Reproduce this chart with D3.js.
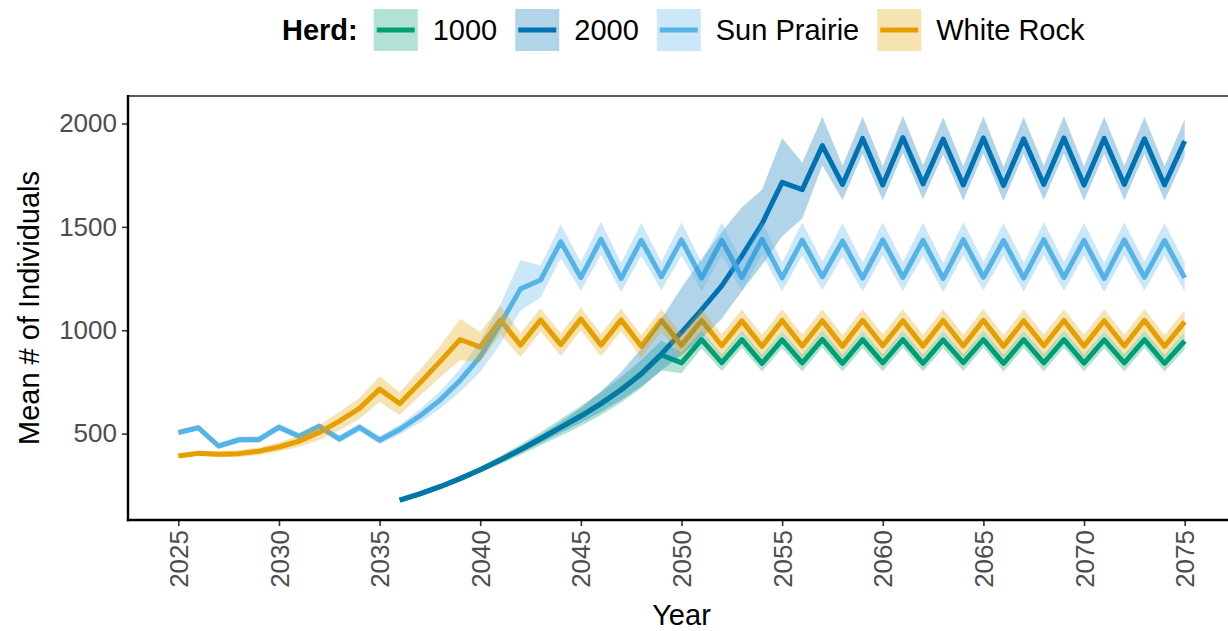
<!DOCTYPE html>
<html>
<head>
<meta charset="utf-8">
<script src="https://cdn.jsdelivr.net/npm/d3@7"></script>
<style>
  html, body { margin: 0; padding: 0; background: #ffffff; }
  svg { display: block; font-family: "Liberation Sans", Arial, sans-serif; }
</style>
</head>
<body>
<svg id="chart" width="1228" height="631"></svg>
<script>
// ---- Data -----------------------------------------------------------------
const herdNames  = ["1000", "2000", "Sun Prairie", "White Rock"];
const herdColors = ["#009E73", "#0072B2", "#56B4E9", "#E69F00"];
const herdStart  = [2036, 2036, 2025, 2025];

const xTicks = [2025, 2030, 2035, 2040, 2045, 2050, 2055, 2060, 2065, 2070, 2075];
const yTicks = [500, 1000, 1500, 2000];

// Herd "1000": 2036-2075
const mean1000 = [178, 208, 243, 282, 325, 372, 422, 475, 530, 585,
                  645, 712, 788, 880, 842, 955, 843, 955, 840, 953,
                  842, 956, 840, 954, 842, 955, 840, 953, 843, 955,
                  840, 954, 842, 955, 841, 953, 842, 955, 840, 948];
const below1000 = [3, 4, 6, 8, 15, 20, 25, 32, 40, 48,
                   55, 62, 68, 75, 50, 42, 40, 40, 40, 40,
                   40, 40, 40, 40, 40, 40, 40, 40, 40, 40,
                   40, 40, 40, 40, 40, 40, 40, 40, 40, 40];
const above1000 = [3, 4, 6, 8, 15, 20, 25, 32, 40, 48,
                   55, 62, 68, 70, 50, 42, 40, 40, 40, 40,
                   40, 40, 40, 40, 40, 40, 40, 40, 40, 40,
                   40, 40, 40, 40, 40, 40, 40, 40, 40, 40];

// Herd "2000": 2036-2075
const mean2000 = [178, 208, 243, 282, 325, 372, 422, 475, 530, 585,
                  645, 712, 790, 885, 990, 1100, 1215, 1360, 1515, 1715,
                  1680, 1893, 1705, 1928, 1703, 1932, 1708, 1925, 1703, 1930,
                  1700, 1926, 1705, 1930, 1702, 1928, 1705, 1926, 1703, 1915];
const below2000 = [3, 4, 6, 8, 10, 13, 17, 21, 26, 32,
                   40, 50, 62, 80, 110, 140, 160, 170, 200, 260,
                   140, 95, 75, 75, 75, 75, 75, 75, 75, 75,
                   75, 75, 75, 75, 75, 75, 75, 75, 75, 75];
const above2000 = [3, 4, 6, 8, 10, 13, 17, 21, 26, 40,
                   60, 85, 120, 170, 215, 245, 260, 235, 165, 215,
                   130, 140, 90, 105, 90, 105, 90, 105, 90, 105,
                   90, 105, 90, 105, 90, 105, 90, 105, 90, 105];

// Sun Prairie: 2025-2075
const meanSun = [505, 528, 440, 470, 471, 531, 487, 535, 474, 530,
                 468, 520, 585, 662, 757, 872, 1030, 1200, 1243, 1428,
                 1255, 1440, 1250, 1435, 1258, 1437, 1252, 1436, 1255, 1440,
                 1253, 1436, 1258, 1432, 1252, 1437, 1255, 1435, 1250, 1438,
                 1256, 1434, 1252, 1438, 1255, 1435, 1250, 1437, 1256, 1434,
                 1253];
const belowSun = [12, 13, 15, 16, 16, 17, 17, 18, 18, 19,
                  20, 24, 32, 42, 55, 75, 95, 105, 85, 80,
                  65, 75, 65, 75, 65, 75, 65, 75, 65, 75,
                  65, 75, 65, 75, 65, 75, 65, 75, 65, 75,
                  65, 75, 65, 75, 65, 75, 65, 75, 65, 75,
                  65];
const aboveSun = [12, 13, 15, 16, 16, 17, 17, 18, 18, 19,
                  20, 24, 32, 42, 55, 75, 95, 140, 70, 85,
                  75, 85, 75, 85, 75, 85, 75, 85, 75, 85,
                  75, 85, 75, 85, 75, 85, 75, 85, 75, 85,
                  75, 85, 75, 85, 75, 85, 75, 85, 75, 85,
                  75];

// White Rock: 2025-2075
const meanWhite = [392, 405, 400, 403, 415, 435, 463, 505, 560, 622,
                   715, 645, 745, 848, 955, 918, 1050, 928, 1050, 930,
                   1055, 928, 1050, 922, 1048, 927, 1048, 925, 1045, 922,
                   1047, 924, 1046, 922, 1048, 925, 1046, 923, 1047, 924,
                   1048, 922, 1046, 925, 1047, 923, 1046, 924, 1048, 922,
                   1040];
const spreadWhite = [10, 12, 14, 16, 18, 22, 28, 36, 44, 50,
                     62, 55, 62, 75, 100, 72, 70, 58, 56, 55,
                     55, 55, 55, 55, 55, 55, 55, 55, 55, 55,
                     55, 55, 55, 55, 55, 55, 55, 55, 55, 55,
                     55, 55, 55, 55, 55, 55, 55, 55, 55, 55,
                     55];

const herdMeans  = [mean1000, mean2000, meanSun, meanWhite];
const herdBelow  = [below1000, below2000, belowSun, spreadWhite];
const herdAbove  = [above1000, above2000, aboveSun, spreadWhite];

const series = herdNames.map((name, k) => ({
  name,
  color: herdColors[k],
  values: herdMeans[k].map((m, i) => ({
    year: herdStart[k] + i,
    mean: m,
    lo: m - herdBelow[k][i],
    hi: m + herdAbove[k][i]
  }))
}));

// ---- Layout ---------------------------------------------------------------
const panelLeft = 128, panelTop = 96, panelBottom = 520, panelRight = 1235;
const tickFont = "26px";
const titleFont = "29px";
const svg = d3.select("#chart");

const x = d3.scaleLinear().domain([2022.5, 2077.5]).range([panelLeft, panelRight]);
const y = d3.scaleLinear().domain([82, 2133]).range([panelBottom, panelTop]);

svg.append("defs").append("clipPath").attr("id", "panel-clip")
  .append("rect")
  .attr("x", panelLeft).attr("y", panelTop)
  .attr("width", panelRight - panelLeft).attr("height", panelBottom - panelTop);

const plot = svg.append("g").attr("clip-path", "url(#panel-clip)");

const line = d3.line().x(d => x(d.year)).y(d => y(d.mean));
const area = d3.area().x(d => x(d.year)).y0(d => y(d.lo)).y1(d => y(d.hi));

// mean lines first, translucent ribbons on top
series.forEach(s => {
  plot.append("path")
    .attr("d", line(s.values))
    .attr("fill", "none")
    .attr("stroke", s.color)
    .attr("stroke-width", 5)
    .attr("stroke-linejoin", "round");
});
series.forEach(s => {
  plot.append("path")
    .attr("d", area(s.values))
    .attr("fill", s.color)
    .attr("fill-opacity", 0.3);
});

// ---- Axes -----------------------------------------------------------------
const yAxis = svg.append("g")
  .attr("transform", `translate(${panelLeft},0)`)
  .call(d3.axisLeft(y).tickValues(yTicks).tickFormat(d3.format("d"))
    .tickSize(6).tickPadding(5).tickSizeOuter(0));
yAxis.select(".domain").remove();
yAxis.selectAll(".tick line").attr("stroke", "#333333").attr("stroke-width", 1.6);
yAxis.selectAll(".tick text")
  .attr("fill", "#4D4D4D")
  .style("font-size", tickFont)
  .style("font-family", "'Liberation Sans', Arial, sans-serif");

const xAxis = svg.append("g")
  .attr("transform", `translate(0,${panelBottom})`)
  .call(d3.axisBottom(x).tickValues(xTicks).tickFormat(d3.format("d"))
    .tickSize(6).tickSizeOuter(0));
xAxis.select(".domain").remove();
xAxis.selectAll(".tick line").attr("stroke", "#333333").attr("stroke-width", 1.6);
xAxis.selectAll(".tick text")
  .attr("fill", "#4D4D4D")
  .style("font-size", tickFont)
  .style("font-family", "'Liberation Sans', Arial, sans-serif")
  .attr("transform", "rotate(-90)")
  .attr("x", -10)
  .attr("y", 0)
  .attr("dy", "0.35em")
  .style("text-anchor", "end");

// panel outline: dark axis lines, grey top rule
svg.append("line")
  .attr("x1", panelLeft).attr("x2", 1228)
  .attr("y1", panelTop).attr("y2", panelTop)
  .attr("stroke", "#5a5a5a").attr("stroke-width", 2);
svg.append("line")
  .attr("x1", panelLeft).attr("x2", panelLeft)
  .attr("y1", panelTop - 1).attr("y2", panelBottom + 1.2)
  .attr("stroke", "#000").attr("stroke-width", 2.4);
svg.append("line")
  .attr("x1", panelLeft - 1.2).attr("x2", 1228)
  .attr("y1", panelBottom).attr("y2", panelBottom)
  .attr("stroke", "#000").attr("stroke-width", 2.4);

// axis titles
svg.append("text")
  .attr("x", (panelLeft + panelRight) / 2)
  .attr("y", 625)
  .attr("text-anchor", "middle")
  .style("font-size", titleFont)
  .attr("fill", "#000")
  .text("Year");

svg.append("text")
  .attr("transform", `translate(39,${(panelTop + panelBottom) / 2}) rotate(-90)`)
  .attr("text-anchor", "middle")
  .style("font-size", titleFont)
  .attr("fill", "#000")
  .text("Mean # of Individuals");

// ---- Legend ---------------------------------------------------------------
const legend = svg.append("g").attr("transform", "translate(0,30)");
let cursor = 282;
const legendTitle = legend.append("text")
  .attr("x", cursor).attr("y", 0).attr("dy", "0.35em")
  .style("font-size", titleFont).style("font-weight", "bold")
  .text("Herd:");
cursor += legendTitle.node().getComputedTextLength() + 16;

herdNames.forEach((name, k) => {
  legend.append("rect")
    .attr("x", cursor).attr("y", -21)
    .attr("width", 44).attr("height", 42)
    .attr("fill", herdColors[k]).attr("fill-opacity", 0.3);
  legend.append("line")
    .attr("x1", cursor + 3).attr("x2", cursor + 41)
    .attr("y1", 0).attr("y2", 0)
    .attr("stroke", herdColors[k]).attr("stroke-width", 5);
  cursor += 44 + 15;
  const label = legend.append("text")
    .attr("x", cursor).attr("y", 0).attr("dy", "0.35em")
    .style("font-size", titleFont)
    .text(name);
  cursor += label.node().getComputedTextLength() + 18;
});
</script>
</body>
</html>
